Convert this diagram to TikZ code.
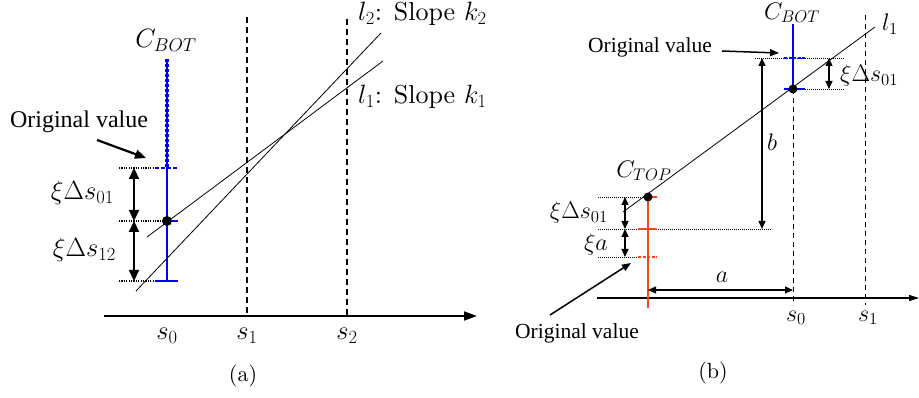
\RequirePackage{fix-cm}
\documentclass[tikz,border=0pt]{standalone}
\usepackage{fontspec}
\setmainfont{lmroman10-regular}[Extension=.otf]
\newfontfamily\annfont{Liberation Serif}
\usepackage{tikz}
\usetikzlibrary{arrows.meta,positioning}
\definecolor{barblue}{RGB}{0, 0, 255}
\definecolor{barred}{RGB}{245, 70, 30}
\newcommand{\plaintext}[1]{{\fontsize{26}{30}\selectfont #1}}

\tikzset{
  axisA/.style={line width=1.8pt,-{Triangle[length=13pt,width=9pt]}},
  axisB/.style={line width=1.2pt,-{Triangle[length=10pt,width=6pt]}},
  gridA/.style={line width=1.6pt,dash pattern=on 6pt off 4pt},
  gridB/.style={line width=0.8pt,dash pattern=on 5pt off 4pt},
  slope/.style={line width=0.8pt},
  guideA/.style={line width=1.4pt,dash pattern=on 1.2pt off 1.2pt},
  guideB/.style={line width=0.7pt,dash pattern=on 1pt off 1pt},
  dimA/.style={line width=2.2pt,{Triangle[length=11pt,width=10pt]}-{Triangle[length=11pt,width=10pt]}},
  dimB/.style={line width=1.2pt,{Triangle[length=8pt,width=7pt]}-{Triangle[length=8pt,width=7pt]}},
  pointerA/.style={line width=2.2pt,-{Triangle[length=11pt,width=9pt]}},
  pointerB/.style={line width=1.5pt,-{Triangle[length=9pt,width=7pt]}},
  bluebar/.style={draw=barblue,line width=2.8pt},
  redbar/.style={draw=barred,line width=2.8pt},
  mathA/.style={font=\fontsize{26.5}{30}\selectfont,inner sep=0pt},
  mathB/.style={font=\fontsize{24}{28}\selectfont,inner sep=0pt},
  caption/.style={font=\fontsize{22}{26}\selectfont,inner sep=0pt},
  noteA/.style={font=\annfont\fontsize{24}{28}\selectfont,inner sep=0pt},
  noteB/.style={font=\annfont\fontsize{21.5}{25}\selectfont,inner sep=0pt}
}

\begin{document}
\begin{tikzpicture}[x=1pt,y=-1pt]
\useasboundingbox (0,0) rectangle (919,398);

% (a)
\coordinate (axA0) at (104,316);
\coordinate (axA1) at (477,316);
\coordinate (s1top) at (247,17);
\coordinate (s1bot) at (247,316);
\coordinate (s2top) at (347,19);
\coordinate (s2bot) at (347,316);
\coordinate (cbTop) at (167,59);
\coordinate (cbOrig) at (167,168);
\coordinate (cbDot) at (167,221);
\coordinate (cbBot) at (167,281);
\coordinate (gOrig) at (119,168);
\coordinate (gDot) at (119,221);
\coordinate (gBot) at (119,281);
\coordinate (dOrig) at (134,168);
\coordinate (dDot) at (134,221);
\coordinate (dBot) at (134,281);
\coordinate (lineOneA) at (147,237);
\coordinate (lineOneB) at (383,61);
\coordinate (lineTwoA) at (136,291);
\coordinate (lineTwoB) at (381,33);

\draw[axisA] (axA0) -- (axA1);
\draw[gridA] (s1top) -- (s1bot);
\draw[gridA] (s2top) -- (s2bot);
\draw[guideA] (gOrig) -- ([xshift=-12pt]cbOrig);
\draw[guideA] (gDot) -- (cbDot);
\draw[guideA] (gBot) -- ([xshift=-4pt]cbBot);
\draw[bluebar,line width=2pt] (cbTop) -- (cbOrig);
\draw[bluebar,line width=3.6pt,dash pattern=on 3pt off 2pt] (cbTop) -- (cbOrig);
\draw[bluebar] (cbOrig) -- (cbBot);
\draw[bluebar,dash pattern=on 4pt off 2pt] ([xshift=-12pt]cbOrig) -- ([xshift=11pt]cbOrig);
\draw[bluebar] (cbDot) -- ([xshift=11pt]cbDot);
\draw[bluebar] ([xshift=-12pt]cbBot) -- ([xshift=11pt]cbBot);
\draw[slope] (lineOneA) -- (lineOneB);
\draw[slope] (lineTwoA) -- (lineTwoB);
\fill (cbDot) circle (5pt);
\draw[dimA] (dOrig) -- (dDot);
\draw[dimA] (dDot) -- (dBot);

\node[mathA] (sa0) at (167,336) {$s_0$};
\node[mathA] (sa1) at (247,336) {$s_1$};
\node[mathA] (sa2) at (347,336) {$s_2$};
\node[mathA] (cbotA) at (166,40) {$C_{BOT}$};
\node[mathA,anchor=west] (ltwo) at (358,14) {$l_2$\plaintext{:\hspace{0.45em}Slope} $k_2$};
\node[mathA,anchor=west] (lone) at (358,97) {$l_1$\plaintext{:\hspace{0.45em}Slope} $k_1$};
\node[mathA,anchor=east] (xi01A) at (114,193) {$\xi\Delta s_{01}$};
\node[mathA,anchor=east] (xi12A) at (116,250) {$\xi\Delta s_{12}$};
\node[noteA] (origA) at (79,122) {Original value};
\node[caption] (capA) at (243,376) {(a)};
\draw[pointerA] (97,140) -- (146,158);

% (b)
\coordinate (axB0) at (597,298);
\coordinate (axB1) at (919,298);
\coordinate (t0top) at (793,89);
\coordinate (t0bot) at (793,305);
\coordinate (t1top) at (865,15);
\coordinate (t1bot) at (865,305);
\coordinate (lineB0) at (623,212);
\coordinate (lineB1) at (875,27);
\coordinate (bbTop) at (793,24);
\coordinate (bbOrig) at (793,58);
\coordinate (bbDot) at (793,89);
\coordinate (rbDot) at (648,197);
\coordinate (rbMid) at (648,229);
\coordinate (rbOrig) at (648,257);
\coordinate (rbBot) at (648,308);

\draw[axisB] (axB0) -- (axB1);
\draw[gridB] (t0top) -- (t0bot);
\draw[gridB] (t1top) -- (t1bot);
\draw[guideB] (755,58) -- (845,58);
\draw[guideB] (bbDot) -- (845,89);
\draw[guideB] (598,229) -- (772,229);
\draw[guideB] (598,197) -- ([xshift=-5pt]rbDot);
\draw[guideB] (598,257) -- ([xshift=-10pt]rbOrig);
\draw[bluebar] (bbTop) -- (bbDot);
\draw[bluebar,dash pattern=on 3pt off 1.5pt] ([xshift=-9pt]bbOrig) -- ([xshift=12pt]bbOrig);
\draw[bluebar] ([xshift=-9pt]bbDot) -- ([xshift=12pt]bbDot);
\draw[redbar] (rbDot) -- (rbBot);
\draw[redbar] ([xshift=-5pt]rbDot) -- ([xshift=9pt]rbDot);
\draw[redbar] ([xshift=-10pt]rbMid) -- ([xshift=9pt]rbMid);
\draw[redbar,dash pattern=on 3pt off 1.5pt] ([xshift=-10pt]rbOrig) -- ([xshift=9pt]rbOrig);
\draw[slope] (lineB0) -- (lineB1);
\fill (bbDot) circle (4.5pt);
\fill (rbDot) circle (4.5pt);
\draw[dimB] (829,58) -- (829,89);
\draw[dimB] (762,58) -- (762,229);
\draw[dimB] (625,197) -- (625,229);
\draw[dimB] (625,229) -- (625,257);
\draw[dimB] (648,290) -- (793,290);

\node[mathB] (sb0) at (796,318) {$s_0$};
\node[mathB] (sb1) at (868,318) {$s_1$};
\node[mathB] (loneB) at (890,24) {$l_1$};
\node[mathB] (cbotB) at (792,13) {$C_{BOT}$};
\node[mathB] (ctopB) at (644,171) {$C_{TOP}$};
\node[mathB,anchor=west] (xi01R) at (840,76) {$\xi\Delta s_{01}$};
\node[mathB] (bB) at (772,142) {$b$};
\node[mathB] (aB) at (722,277) {$a$};
\node[mathB,anchor=east] (xi01L) at (608,213) {$\xi\Delta s_{01}$};
\node[mathB,anchor=east] (xiaL) at (608,245) {$\xi a$};
\node[noteB] (origBtop) at (650,47) {Original value};
\node[noteB] (origBbot) at (577,333) {Original value};
\node[caption] (capB) at (713,373) {(b)};
\draw[pointerB] (722,51) -- (779,53);
\draw[pointerB] (550,315) -- (631,263);
\end{tikzpicture}
\end{document}
